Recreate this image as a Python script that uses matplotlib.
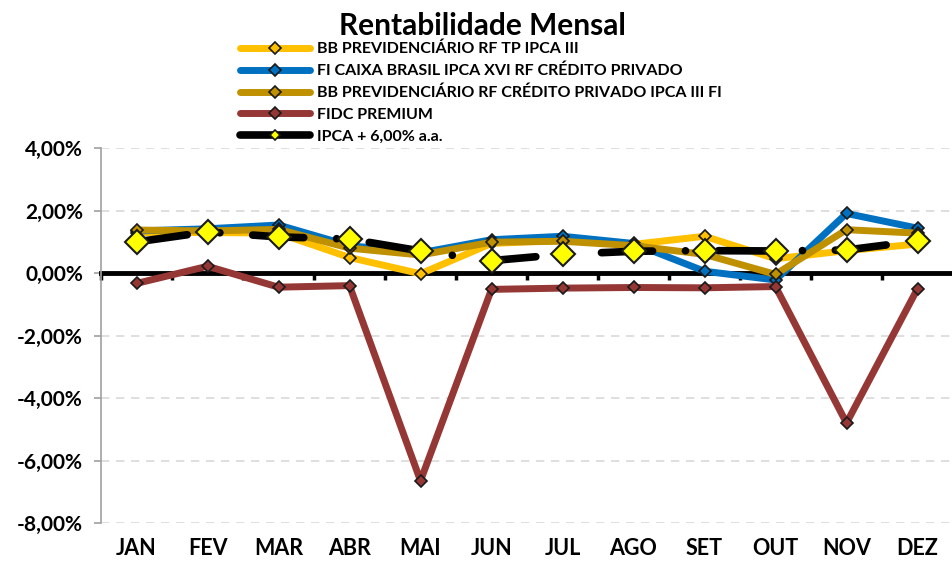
import matplotlib.pyplot as plt
from matplotlib.lines import Line2D
from matplotlib.ticker import FuncFormatter

plt.rcParams['font.family'] = ['Lato', 'DejaVu Sans']
plt.rcParams['font.weight'] = 'bold'

# --------------------
# DATA (% per month)
# --------------------
months = ['JAN', 'FEV', 'MAR', 'ABR', 'MAI', 'JUN', 'JUL', 'AGO', 'SET', 'OUT', 'NOV', 'DEZ']
bb_tp = [1.30, 1.30, 1.28, 0.50, -0.02, 0.95, 1.05, 0.92, 1.18, 0.46, 0.72, 0.93]
caixa = [1.35, 1.42, 1.54, 0.88, 0.65, 1.07, 1.18, 0.95, 0.06, -0.22, 1.91, 1.44]
bb_cp = [1.38, 1.35, 1.40, 0.80, 0.58, 0.99, 1.02, 0.88, 0.60, -0.04, 1.39, 1.28]
fidc = [-0.33, 0.22, -0.45, -0.40, -6.65, -0.52, -0.48, -0.46, -0.47, -0.43, -4.80, -0.50]
ipca = [1.00, 1.32, 1.16, 1.09, 0.71, 0.40, 0.60, 0.70, 0.72, 0.71, 0.74, 1.03]

labels = ['BB PREVIDENCIÁRIO RF TP IPCA III',
          'FI CAIXA BRASIL IPCA XVI RF CRÉDITO PRIVADO',
          'BB PREVIDENCIÁRIO RF CRÉDITO PRIVADO IPCA III FI',
          'FIDC PREMIUM',
          'IPCA + 6,00% a.a.']
colors = ['#FFC000', '#0070C0', '#BF9000', '#953735']
yticks = [4, 2, 0, -2, -4, -6, -8]

# --------------------
# PLOTTING
# --------------------
fig = plt.figure(figsize=(9.53, 5.70), dpi=100)
ax = fig.add_axes([0.106, 0.0825, 0.894, 0.6575])

x = list(range(len(months)))
handles = []
for vals, col, lab in zip([bb_tp, caixa, bb_cp, fidc], colors, labels):
    ln, = ax.plot(x, vals, color=col, lw=5, marker='D', ms=6.5, mfc=col, mec='#1a1a1a',
                  mew=1.2, solid_joinstyle='round', solid_capstyle='round', label=lab, zorder=3)
    handles.append(ln)

ax.plot(x, ipca, color='black', lw=5.5, ls=(0, (6.7, 4.3, 0.01, 4.3)),
        dash_capstyle='round', marker='D', ms=12, mfc='#FFFF00', mec='#1a1a1a',
        mew=1.5, zorder=4)
# legend entry for IPCA uses a small marker, like the other series
handles.append(Line2D([], [], color='black', lw=5.5, solid_capstyle='round', marker='D',
                      ms=5.5, mfc='#FFFF00', mec='#1a1a1a', mew=1.2, label=labels[4]))

ax.set_xlim(-0.5, 11.5)
ax.set_ylim(-8, 4)
ax.set_yticks(yticks)
ax.yaxis.set_major_formatter(FuncFormatter(lambda v, p: f'{v:.2f}%'.replace('.', ',')))
ax.grid(axis='y', color='#d9d9d9', ls=(0, (5, 4)), lw=1.2)
ax.set_axisbelow(True)

for s in ['top', 'right']:
    ax.spines[s].set_visible(False)
ax.spines['left'].set_color('#a0a0a0')
ax.spines['left'].set_linewidth(1.2)
ax.tick_params(axis='y', colors='#a0a0a0', length=5, width=1.2, labelsize=15,
               labelcolor='black', pad=8)

# zero line with category separators
ax.spines['bottom'].set_position(('data', 0))
ax.spines['bottom'].set_linewidth(3.5)
ax.spines['bottom'].set_zorder(2)
ax.set_xticks([i - 0.5 for i in x])
ax.tick_params(axis='x', length=5, width=2.5, labelbottom=False, direction='out')

sec = ax.secondary_xaxis('bottom')
sec.set_xticks(x, months)
sec.spines['bottom'].set_visible(False)
sec.tick_params(length=0, labelsize=15.5, pad=11)

fig.text(0.506, 0.955, 'Rentabilidade Mensal', ha='center', va='center',
         fontsize=21.5, fontweight='bold')
fig.legend(handles=handles, loc='upper left', bbox_to_anchor=(0.243, 0.941), frameon=False,
           fontsize=11.5, handlelength=4.4, handletextpad=0.45, labelspacing=0.47,
           borderpad=0, numpoints=1)

plt.savefig('out.png', dpi=100)
